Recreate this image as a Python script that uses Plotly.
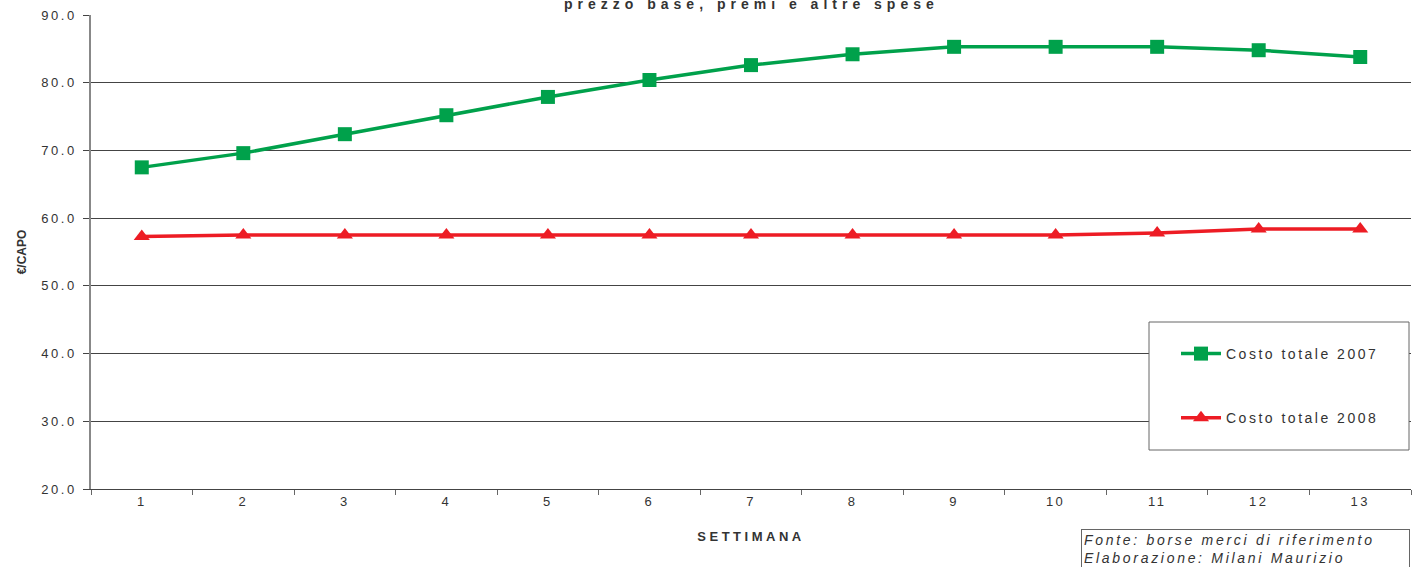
import plotly.graph_objects as go

weeks = list(range(1, 14))
costo_2007 = [67.5, 69.6, 72.4, 75.2, 77.9, 80.4, 82.6, 84.2, 85.3, 85.3, 85.3, 84.8, 83.8]
costo_2008 = [57.3, 57.5, 57.5, 57.5, 57.5, 57.5, 57.5, 57.5, 57.5, 57.5, 57.8, 58.4, 58.4]
y_ticks = [20, 30, 40, 50, 60, 70, 80, 90]
y_tick_labels = [f"{v:.1f}" for v in y_ticks]

GREEN = "#00A14B"
RED = "#ED1C24"
TXT = "#333333"
FONT = "Liberation Sans, Arial, sans-serif"

fig = go.Figure()
fig.add_trace(go.Scatter(
    x=weeks, y=costo_2007, mode="lines+markers", name="Costo totale 2007",
    legendgroup="a",
    line=dict(color=GREEN, width=3.5),
    marker=dict(symbol="square", size=14, color=GREEN),
))
fig.add_trace(go.Scatter(
    x=weeks, y=costo_2008, mode="lines+markers", name="Costo totale 2008",
    legendgroup="b",
    line=dict(color=RED, width=3.5),
    marker=dict(symbol="triangle-up", size=14, color=RED),
))

boundaries = [w - 0.5 for w in weeks] + [weeks[-1] + 0.5]

fig.update_layout(
    width=1418, height=567,
    margin=dict(l=91, r=7, t=15, b=78),
    paper_bgcolor="white", plot_bgcolor="white",
    font=dict(family=FONT, size=13, color=TXT),
    showlegend=True,
    legend=dict(
        x=(1176 - 91) / 1320, y=1 - (338 - 15) / 474,
        xanchor="left", yanchor="top",
        bgcolor="rgba(0,0,0,0)", borderwidth=0,
        font=dict(size=14, color=TXT),
        tracegroupgap=43, itemwidth=40,
    ),
    xaxis=dict(
        range=[0.5, 13.5], tickmode="array", tickvals=weeks,
        ticktext=[str(w) for w in weeks], ticks="",
        showgrid=False, zeroline=False,
        showline=True, linecolor="#444444", linewidth=1,
        tickfont=dict(size=13, color=TXT),
        minor=dict(tickmode="array", tickvals=boundaries, ticks="outside",
                   ticklen=5, tickcolor="#666666", showgrid=False),
        title=dict(text="<b>SETTIMANA</b>", font=dict(size=13, color=TXT), standoff=24),
        fixedrange=True,
    ),
    yaxis=dict(
        range=[20, 90], tickmode="array", tickvals=y_ticks, ticktext=y_tick_labels,
        ticks="outside", ticklen=6, tickcolor="#444444",
        showgrid=True, gridcolor="#444444", gridwidth=1,
        zeroline=False, showline=True, linecolor="#888888", linewidth=1.5,
        tickfont=dict(size=13, color=TXT), ticklabelstandoff=4,
        title=dict(text="<b>€/CAPO</b>", font=dict(size=12, color=TXT), standoff=22),
        fixedrange=True,
    ),
    shapes=[
        dict(type="rect", xref="paper", yref="paper",
             x0=(1149 - 91) / 1320, x1=(1409 - 91) / 1320,
             y0=1 - (450 - 15) / 474, y1=1 - (322 - 15) / 474,
             fillcolor="white", line=dict(color="#666666", width=1), layer="above"),
    ],
    annotations=[
        dict(text="<b>prezzo base, premi e altre spese</b>", xref="paper", yref="paper",
             x=0.5, y=1 + 1 / 474, xanchor="center", yanchor="bottom",
             showarrow=False, font=dict(size=14, color=TXT)),
        dict(text="<i>Fonte: borse merci di riferimento<br>Elaborazione: Milani Maurizio</i>",
             xref="paper", yref="paper",
             x=(1081 - 91) / 1320, y=-(529 - 489) / 474,
             xanchor="left", yanchor="top", align="left",
             showarrow=False, font=dict(size=14, color=TXT),
             bordercolor="#666666", borderwidth=1, borderpad=2, bgcolor="white",
             width=323),
    ],
)

post = """
document.body.style.margin = '0';
document.body.style.padding = '0';
var gd = document.getElementById('{plot_id}');
function spaceIt(){
  var rules = [
    ['.xtick text, .ytick text', '2.5px'],
    ['.legendtext', '2.5px'],
    ['.g-xtitle text', '3.5px'],
    ['.annotation-text', '2.7px']
  ];
  rules.forEach(function(r){
    gd.querySelectorAll(r[0]).forEach(function(t){ t.style.letterSpacing = r[1]; });
  });
  var ann = gd.querySelectorAll('.annotation-text');
  if (ann.length) { ann[0].style.letterSpacing = '5px'; }
  gd.querySelectorAll('.legend [clip-path], .legend[clip-path]').forEach(function(e){
    e.removeAttribute('clip-path');
  });
}
spaceIt();
gd.on('plotly_afterplot', spaceIt);
"""

fig.write_html("out.html", post_script=post, config={"displayModeBar": False})
